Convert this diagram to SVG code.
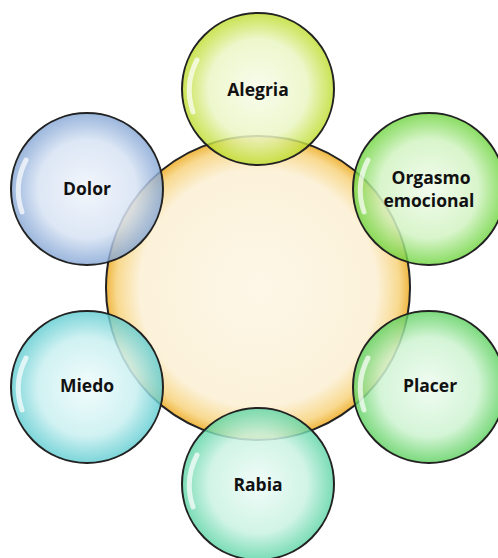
<svg xmlns="http://www.w3.org/2000/svg" width="498" height="558" viewBox="0 0 498 558">
<style>
.lbl{font-family:"Open Sans","Liberation Sans",sans-serif;font-weight:bold;font-size:17.5px;fill:#111;text-anchor:middle;dominant-baseline:central}
.ring{stroke:#222;stroke-width:2}
.gl{fill:none;stroke:#fff;stroke-width:5;stroke-linecap:round;opacity:0.7}
</style>
<defs>
<radialGradient id="gc" cx="50%" cy="50%" r="50%">
<stop offset="0" stop-color="#fdf7e8"/>
<stop offset="0.78" stop-color="#fcf2da"/>
<stop offset="0.93" stop-color="#f8d98f"/>
<stop offset="1" stop-color="#f0b640"/>
</radialGradient>
<radialGradient id="g1" cx="50%" cy="50%" r="50%"><stop offset="0" stop-color="#f8fcec" stop-opacity="0.92"/><stop offset="0.65" stop-color="#eaf6c4" stop-opacity="0.85"/><stop offset="1" stop-color="#bcdc28" stop-opacity="0.8"/></radialGradient>
<radialGradient id="g2" cx="50%" cy="50%" r="50%"><stop offset="0" stop-color="#f2fcee" stop-opacity="0.92"/><stop offset="0.65" stop-color="#d2f3c2" stop-opacity="0.85"/><stop offset="1" stop-color="#6cd43c" stop-opacity="0.8"/></radialGradient>
<radialGradient id="g3" cx="50%" cy="50%" r="50%"><stop offset="0" stop-color="#f0fcf2" stop-opacity="0.92"/><stop offset="0.65" stop-color="#cdf3d0" stop-opacity="0.85"/><stop offset="1" stop-color="#5ad05c" stop-opacity="0.8"/></radialGradient>
<radialGradient id="g4" cx="50%" cy="50%" r="50%"><stop offset="0" stop-color="#f0fcf8" stop-opacity="0.92"/><stop offset="0.65" stop-color="#c9f2e2" stop-opacity="0.85"/><stop offset="1" stop-color="#5ad4a4" stop-opacity="0.8"/></radialGradient>
<radialGradient id="g5" cx="50%" cy="50%" r="50%"><stop offset="0" stop-color="#f2fcfc" stop-opacity="0.92"/><stop offset="0.65" stop-color="#c8eff0" stop-opacity="0.85"/><stop offset="1" stop-color="#5ccbd0" stop-opacity="0.8"/></radialGradient>
<radialGradient id="g6" cx="50%" cy="50%" r="50%"><stop offset="0" stop-color="#f2f6fc" stop-opacity="0.92"/><stop offset="0.65" stop-color="#d6e2f3" stop-opacity="0.85"/><stop offset="1" stop-color="#82a4d4" stop-opacity="0.8"/></radialGradient>
</defs>
<g id="connectors"/>
<g id="centro">
<circle class="ring" cx="258" cy="288" r="152" fill="url(#gc)"/>
</g>
<g id="alegria">
<circle class="ring" cx="258" cy="89" r="76" fill="url(#g1)"/>
<path class="gl" d="M197 60 A66 66 0 0 0 193 112"/>
<text class="lbl" x="258" y="89">Alegria</text>
</g>
<g id="orgasmo">
<circle class="ring" cx="429" cy="189" r="76" fill="url(#g2)"/>
<path class="gl" d="M368 160 A66 66 0 0 0 364 212"/>
<text class="lbl" x="431" y="177">Orgasmo</text>
<text class="lbl" x="429" y="200">emocional</text>
</g>
<g id="placer">
<circle class="ring" cx="429" cy="387" r="76" fill="url(#g3)"/>
<path class="gl" d="M368 358 A66 66 0 0 0 364 410"/>
<text class="lbl" x="430" y="385">Placer</text>
</g>
<g id="rabia">
<circle class="ring" cx="258" cy="484" r="76" fill="url(#g4)"/>
<path class="gl" d="M197 455 A66 66 0 0 0 193 507"/>
<text class="lbl" x="258" y="484">Rabia</text>
</g>
<g id="miedo">
<circle class="ring" cx="87" cy="387" r="76" fill="url(#g5)"/>
<path class="gl" d="M26 358 A66 66 0 0 0 22 410"/>
<text class="lbl" x="87" y="385">Miedo</text>
</g>
<g id="dolor">
<circle class="ring" cx="87" cy="189" r="76" fill="url(#g6)"/>
<path class="gl" d="M26 160 A66 66 0 0 0 22 212"/>
<text class="lbl" x="87" y="188">Dolor</text>
</g>
</svg>
